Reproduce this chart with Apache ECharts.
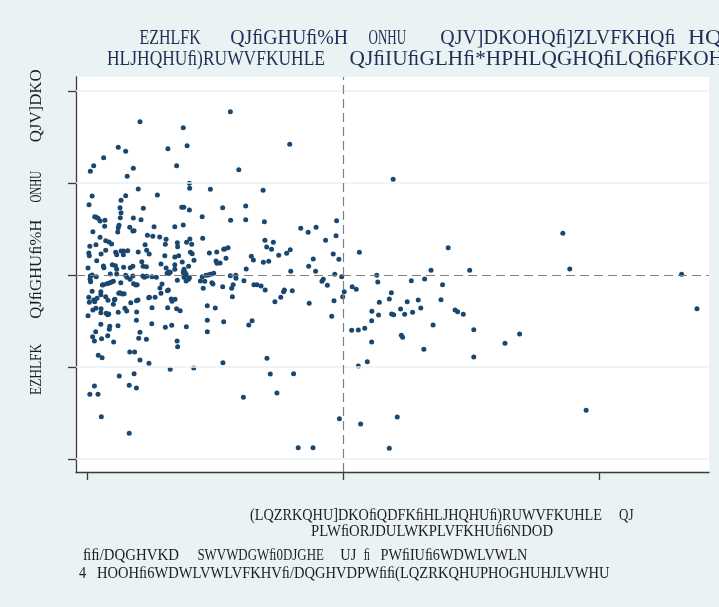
<!DOCTYPE html>
<html><head><meta charset="utf-8">
<script src="https://cdn.jsdelivr.net/npm/echarts@6/dist/echarts.min.js"></script>
<style>html,body{margin:0;padding:0;background:#eaf2f3}#c{width:719px;height:607px}</style>
</head><body><div id="c"></div>
<script>
// x: log10 of population (Einwohnerzahl, log scale); y: deviation
const logPop = [3.560,3.207,3.376,3.792,3.122,3.151,3.316,3.391,3.065,3.026,3.013,3.350,3.181,3.593,3.157,3.400,3.401,3.200,3.482,3.688,
3.020,3.275,3.151,3.133,3.008,3.129,3.220,3.370,3.378,3.400,3.530,3.620,3.133,3.030,3.036,3.043,3.051,3.070,3.130,3.181,
3.211,3.450,3.561,3.620,3.693,3.975,3.069,3.125,3.122,3.120,3.023,3.167,3.179,3.184,3.343,3.376,3.262,3.835,3.864,3.895,
3.973,3.051,3.236,3.257,3.284,3.309,3.452,3.402,3.695,3.728,3.932,3.073,3.086,3.096,3.227,3.306,3.353,3.354,3.389,3.409,
3.011,3.035,3.551,3.534,3.702,3.721,3.794,3.073,3.233,3.243,3.200,3.112,3.116,3.133,3.143,3.142,3.159,3.007,3.009,3.055,
3.304,3.343,3.358,3.404,3.411,3.478,3.507,3.538,3.642,3.650,3.749,3.780,3.884,3.962,3.984,4.064,3.418,3.504,3.520,3.508,
3.543,3.689,3.710,3.214,3.372,3.038,3.004,3.064,3.066,3.099,3.111,3.116,3.143,3.169,3.179,3.219,3.232,3.289,3.309,3.325,
3.318,3.343,3.343,3.379,3.376,3.384,3.397,3.622,3.796,3.866,3.893,3.968,3.995,
3.013,3.020,3.036,3.012,3.014,3.091,3.116,3.151,3.156,3.168,3.179,3.218,3.224,3.234,3.254,3.271,3.313,3.320,3.353,3.379,
3.379,3.388,3.387,3.397,3.400,3.443,3.450,3.454,3.465,3.474,3.482,3.495,3.460,3.488,3.492,3.530,3.560,3.581,3.582,3.565,
3.571,3.568,3.613,3.652,3.664,3.680,3.696,3.734,3.757,3.768,3.771,3.802,3.918,3.923,3.939,4.005,3.999,3.965,3.868,4.036,4.052,
3.007,3.009,3.026,3.030,3.020,3.054,3.054,3.039,3.035,3.023,3.004,3.055,3.054,3.060,3.064,3.078,3.087,3.096,3.103,3.073,
3.082,3.085,3.081,3.075,3.054,3.034,3.089,3.087,3.081,3.022,3.029,3.057,3.104,3.107,3.109,3.103,3.122,3.121,3.124,3.129,
3.138,3.145,3.132,3.148,3.155,3.171,3.182,3.191,3.196,3.193,3.199,3.194,3.193,3.207,3.202,3.232,3.241,3.244,3.254,3.266,
3.253,3.306,3.289,3.293,3.285,3.314,3.318,3.329,3.332,3.344,3.315,3.331,3.350,3.364,3.352,3.354,3.388,3.470,3.470,3.470,
3.501,3.534,3.632,3.645,3.044,3.059,3.167,3.186,3.207,3.242,3.325,3.417,3.531,3.703,3.716,3.807,3.126,3.184,3.029,3.011,
3.043,3.165,3.193,3.611,3.742,3.056,3.986,3.165,3.825,3.883,
4.196,4.411,4.859,4.886,5.323,5.383,4.344,4.495,4.132,4.136,4.267,4.319,4.389,4.189,4.181,4.142,4.251,4.294,4.383,3.956,
4.113,4.139,4.190,4.198,4.225,4.241,4.272,4.304,4.438,4.448,4.470,4.112,4.352,4.034,4.060,4.085,4.511,4.690,4.633,4.112,
4.228,4.233,4.316,4.095,4.060,4.511,4.950,4.069,4.212,4.181];
const deviation = [1.775,1.666,1.601,1.421,1.388,1.345,1.373,1.405,1.275,1.188,1.127,1.188,1.160,1.145,1.073,0.997,0.942,0.935,0.932,0.921,
0.859,0.870,0.862,0.812,0.764,0.732,0.725,0.736,0.736,0.707,0.732,0.750,0.677,0.634,0.627,0.616,0.587,0.595,0.623,0.620,
0.601,0.634,0.595,0.601,0.579,0.590,0.529,0.540,0.514,0.467,0.471,0.518,0.478,0.482,0.525,0.543,0.525,0.508,0.464,0.518,
0.427,0.410,0.432,0.421,0.413,0.388,0.399,0.391,0.377,0.355,0.377,0.373,0.359,0.337,0.329,0.334,0.351,0.308,0.355,0.334,
0.312,0.329,0.297,0.279,0.304,0.279,0.275,0.268,0.268,0.228,0.250,0.247,0.221,0.261,0.261,0.221,0.264,0.239,0.210,0.228,
0.210,0.196,0.210,0.247,0.232,0.239,0.250,0.283,0.203,0.163,0.214,0.236,0.174,0.228,0.171,0.247,0.160,0.152,0.130,0.127,
0.182,0.138,0.149,0.145,0.141,0.155,0.076,0.098,0.079,0.112,0.101,0.062,0.084,0.079,0.095,0.095,0.090,0.120,0.076,0.029,
0.014,0.112,0.062,0.062,0.033,0.025,0.095,0.065,0.040,0.095,0.040,0.008,-0.018,
-0.011,0.000,-0.018,-0.047,-0.073,0.011,0.011,-0.003,-0.025,-0.047,-0.011,-0.011,-0.025,-0.014,-0.018,-0.025,0.018,0.033,-0.058,0.008,
-0.025,0.000,-0.065,-0.047,-0.029,-0.065,-0.018,-0.145,-0.003,0.000,0.008,0.018,-0.068,-0.084,-0.098,-0.127,-0.008,-0.003,-0.036,-0.145,
-0.105,-0.236,-0.062,-0.105,-0.105,-0.120,-0.163,-0.290,-0.242,-0.182,-0.163,-0.171,-0.068,-0.047,-0.112,-0.182,-0.236,-0.279,-0.308,-0.127,-0.155,
-0.242,-0.297,-0.272,-0.290,-0.177,-0.182,-0.214,-0.253,-0.362,-0.380,-0.442,-0.366,-0.410,-0.109,-0.105,-0.095,-0.087,-0.076,-0.068,-0.236,
-0.275,-0.424,-0.432,-0.416,-0.536,-0.616,-0.558,-0.590,-0.660,-0.671,-0.717,-0.692,-0.728,-0.268,-0.264,-0.318,-0.405,-0.551,-0.199,-0.192,
-0.207,-0.203,-0.084,-0.362,-0.391,-0.301,-0.095,-0.109,-0.105,-0.279,-0.272,-0.402,-0.492,-0.623,-0.688,-0.699,-0.247,-0.242,-0.355,-0.242,
-0.529,-0.568,-0.199,-0.098,-0.141,-0.171,-0.163,-0.261,-0.286,-0.264,-0.355,-0.547,-0.366,-0.388,-0.717,-0.779,-0.562,-0.334,-0.492,-0.616,
-0.359,-0.508,-0.543,-0.497,-0.873,-0.899,-0.837,-0.837,-0.924,-0.960,-1.025,-1.011,-0.953,-0.905,-1.076,-1.073,-1.098,-1.073,-1.207,-1.297,
-1.297,-1.199,-1.228,-1.329,-1.283,-1.540,-1.562,-1.721,-1.877,-1.877,
1.040,0.297,0.453,0.065,0.008,-0.366,0.051,0.051,-0.003,-0.076,-0.062,-0.043,-0.105,-0.192,-0.261,-0.297,-0.290,-0.272,-0.268,-0.449,
-0.395,-0.435,-0.424,-0.432,-0.370,-0.427,-0.405,-0.359,-0.380,-0.399,-0.427,-0.497,-0.543,-0.601,-0.598,-0.579,-0.595,-0.641,-0.742,-0.728,
-0.655,-0.677,-0.808,-0.942,-0.989,-0.891,-1.471,-1.620,-1.543,-1.884];
const xTicks = [3, 4, 5];
const yTicks = [-2, -1, 0, 1, 2];
const xRef = 4, yRef = 0;

const titleLine1 = ["EZHLFK", "QJﬁGHUﬁ%H", "ONHU", "QJV]DKOHQﬁ]ZLVFKHQﬁ", "HQ"];
const titleLine2 = ["HLJHQHUﬁ)RUWVFKUHLE", "QJﬁIUﬁGLHﬁ*HPHLQGHQﬁLQﬁ6FKOH"];
const yTitle = ["EZHLFK", "QJﬁGHUﬁ%H", "ONHU", "QJV]DKO"];
const xTitle1 = ["(LQZRKQHU]DKOﬁQDFKﬁHLJHQHUﬁ)RUWVFKUHLE", "QJ"];
const xTitle2 = ["PLWﬁORJDULWKPLVFKHUﬁ6NDOD"];
const note1 = ["ﬁﬁ/DQGHVKD", "SWVWDGWﬁ0DJGHE", "UJ", "ﬁ", "PWﬁIUﬁ6WDWLVWLN"];
const note2 = ["4", "HOOHﬁ6WDWLVWLVFKHVﬁ/DQGHVDPWﬁﬁ(LQZRKQHUPHOGHUHJLVWHU"];

const pts = logPop.map((v, i) => [v, deviation[i]]);
const FONT = '"Liberation Serif", "Times New Roman", serif';
const mctx = document.createElement('canvas').getContext('2d');
// text piece fitted between a start and an end position along its reading direction
function txt(t, x, y, size, span, color, rot) {
  mctx.font = size + 'px ' + FONT;
  const sx = span / mctx.measureText(t).width;
  return {type: 'text', x: x, y: y, rotation: rot || 0, scaleX: sx, silent: true,
    style: {text: t, font: size + 'px ' + FONT, fill: color, textAlign: 'left', align: 'left',
            textVerticalAlign: 'middle', verticalAlign: 'middle'}};
}
const g = [];
const TC = '#1c2f55', AC = '#1e1e1e';
// title
const t1 = [[139.5, 200.7], [230.3, 348], [368.5, 406], [440.3, 675.6], [688, 722]];
titleLine1.forEach((s, i) => g.push(txt(s, t1[i][0], 38.5, 20, t1[i][1] - t1[i][0], TC)));
const t2 = [[107, 325], [349.5, 724]];
titleLine2.forEach((s, i) => g.push(txt(s, t2[i][0], 60, 20, t2[i][1] - t2[i][0], TC)));
// y axis title (reads bottom to top)
const yt = [[395, 343.8], [318.7, 219.7], [202.6, 171.1], [142.3, 69.3]];
yTitle.forEach((s, i) => g.push(txt(s, 37, yt[i][0], 17, yt[i][0] - yt[i][1], AC, Math.PI / 2)));
// x axis title
const x1 = [[250, 602], [619, 633.5]];
xTitle1.forEach((s, i) => g.push(txt(s, x1[i][0], 516, 17, x1[i][1] - x1[i][0], AC)));
g.push(txt(xTitle2[0], 311, 532, 17, 553 - 311, AC));
// notes
const n1 = [[83.1, 178.9], [197.4, 323.9], [340.3, 356.2], [363.8, 370], [380.6, 527.2]];
note1.forEach((s, i) => g.push(txt(s, n1[i][0], 556, 16, n1[i][1] - n1[i][0], AC)));
const n2 = [[78.9, 86], [97, 609.6]];
note2.forEach((s, i) => g.push(txt(s, n2[i][0], 574, 16, n2[i][1] - n2[i][0], AC)));

const chart = echarts.init(document.getElementById('c'), null, {renderer: 'canvas'});
chart.setOption({
  backgroundColor: '#eaf2f3',
  animation: false,
  grid: {left: 76, right: 10, top: 77, bottom: 135, show: true, backgroundColor: '#ffffff', borderWidth: 0},
  xAxis: {type: 'value', min: 2.957, max: 5.430,
    axisLine: {show: true, onZero: false, lineStyle: {color: '#3a3a3a', width: 1.3}},
    axisTick: {show: true, customValues: xTicks, length: 8, inside: false, lineStyle: {color: '#3a3a3a', width: 1.3}},
    axisLabel: {show: false, customValues: xTicks}, splitLine: {show: false}},
  yAxis: {type: 'value', min: -2.141, max: 2.152,
    axisLine: {show: true, onZero: false, lineStyle: {color: '#3a3a3a', width: 1.3}},
    axisTick: {show: true, customValues: yTicks, length: 8, inside: false, lineStyle: {color: '#3a3a3a', width: 1.3}},
    axisLabel: {show: false, customValues: yTicks}, splitLine: {show: false}},
  graphic: g,
  series: [
    {type: 'line', data: [], z: 1, silent: true,
     markLine: {silent: true, symbol: 'none', label: {show: false},
       lineStyle: {color: '#eaf2f3', width: 1.6, type: 'solid'},
       data: yTicks.filter(v => v !== yRef).map(v => ({yAxis: v}))}},
    {type: 'line', data: [], z: 2, silent: true,
     markLine: {silent: true, symbol: 'none', label: {show: false},
       lineStyle: {color: '#7f7f7f', width: 1.2, type: [9, 5]},
       data: [{xAxis: xRef}, {yAxis: yRef}]}},
    {type: 'scatter', data: pts, z: 3, symbol: 'circle', symbolSize: 5,
     itemStyle: {color: '#1a476f', opacity: 1}}
  ]
});
</script></body></html>
